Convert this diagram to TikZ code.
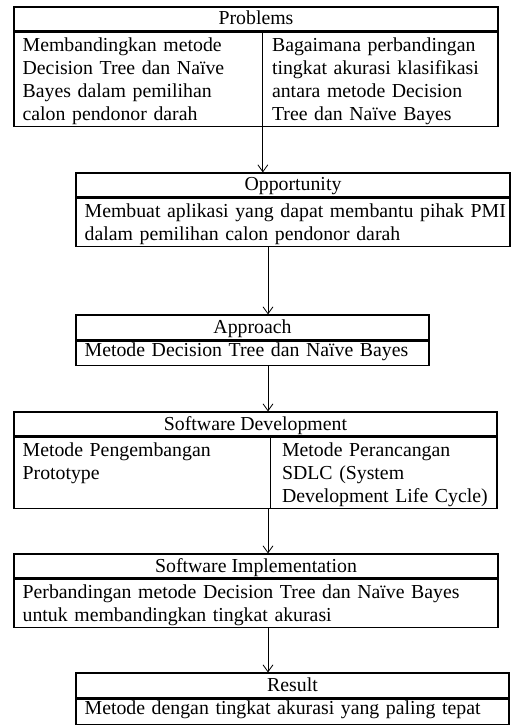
\documentclass[tikz,border=0pt]{standalone}
\usepackage{fontspec}
\setmainfont{Liberation Serif}
\usetikzlibrary{arrows.meta,positioning}

\begin{document}
\begin{tikzpicture}[
  x=1pt, y=-1pt,
  every node/.style={font=\fontsize{19.8}{23}\selectfont},
  head/.style={draw, line width=1.1pt, minimum height=24pt, inner sep=0pt,
               text height=15pt, text depth=3pt},
  frame/.style={draw, line width=1.1pt, inner sep=0pt},
  cell/.style={align=left, inner xsep=9pt, inner ysep=6pt, text height=14pt},
  arr/.style={-{Straight Barb[length=7pt,width=10pt]}, line width=0.8pt}
]
  \useasboundingbox (0,0) rectangle (511,727);
  \coordinate (spine) at (268,0);

  % Problems
  \node[head, minimum width=484pt] (probH) at (256,19) {Problems};
  \node[frame, minimum width=484pt, minimum height=94pt, below=0pt of probH] (probB) {};
  \node[cell, text width=231pt, below right=0pt and 0pt of probB.north west] (probL)
    {Membandingkan metode\\ Decision Tree dan Naïve\\ Bayes dalam pemilihan\\ calon pendonor darah};
  \node[cell, text width=230pt, below right=0pt and 0pt of probL.north east] (probR)
    {Bagaimana perbandingan\\ tingkat akurasi klasifikasi\\ antara metode Decision\\ Tree dan Naïve Bayes};
  \draw[line width=1.1pt] (probL.north east) -- (probL.north east |- probB.south);

  % Opportunity
  \node[head, minimum width=434pt] (oppH) at (293,185) {Opportunity};
  \node[frame, minimum width=434pt, minimum height=48pt, below=0pt of oppH] (oppB) {};
  \node[cell, text width=460pt, below right=0pt and 0pt of oppB.north west] (oppT)
    {Membuat aplikasi yang dapat membantu pihak PMI\\ dalam pemilihan calon pendonor darah};

  % Approach
  \node[head, minimum width=353pt, minimum height=25pt] (appH) at (252.5,327.5) {Approach};
  \node[frame, minimum width=353pt, minimum height=24pt, below=0pt of appH] (appB) {};
  \node[cell, text width=400pt, inner ysep=2pt, below right=0pt and 0pt of appB.north west] (appT)
    {Metode Decision Tree dan Naïve Bayes};

  % Software Development
  \node[head, minimum width=483pt] (sdH) at (255.5,424) {Software Development};
  \node[frame, minimum width=483pt, minimum height=71pt, below=0pt of sdH] (sdB) {};
  \node[cell, text width=239pt, below right=0pt and 0pt of sdB.north west] (sdL)
    {Metode Pengembangan\\ Prototype};
  \node[cell, text width=240pt, inner xsep=11pt, below right=0pt and 0pt of sdL.north east] (sdR)
    {Metode Perancangan\\ SDLC (System\\ Development Life Cycle)};
  \draw[line width=1.1pt] (sdL.north east) -- (sdL.north east |- sdB.south);

  % Software Implementation
  \node[head, minimum width=484pt] (siH) at (256,566) {Software Implementation};
  \node[frame, minimum width=484pt, minimum height=48pt, below=0pt of siH] (siB) {};
  \node[cell, text width=480pt, below right=0pt and 0pt of siB.north west] (siT)
    {Perbandingan metode Decision Tree dan Naïve Bayes\\ untuk membandingkan tingkat akurasi};

  % Result
  \node[head, minimum width=433pt, minimum height=25pt] (resH) at (292.5,685.5) {Result};
  \node[frame, minimum width=433pt, minimum height=25pt, below=0pt of resH] (resB) {};
  \node[cell, text width=440pt, inner ysep=2pt, below right=0pt and 0pt of resB.north west] (resT)
    {Metode dengan tingkat akurasi yang paling tepat};

  \draw[arr] (probL.north east |- probB.south) -- (probL.north east |- oppH.north);
  \draw[arr] (spine |- oppB.south) -- (spine |- appH.north);
  \draw[arr] (spine |- appB.south) -- (spine |- sdH.north);
  \draw[arr] (spine |- sdB.south) -- (spine |- siH.north);
  \draw[arr] (spine |- siB.south) -- (spine |- resH.north);
\end{tikzpicture}
\end{document}
